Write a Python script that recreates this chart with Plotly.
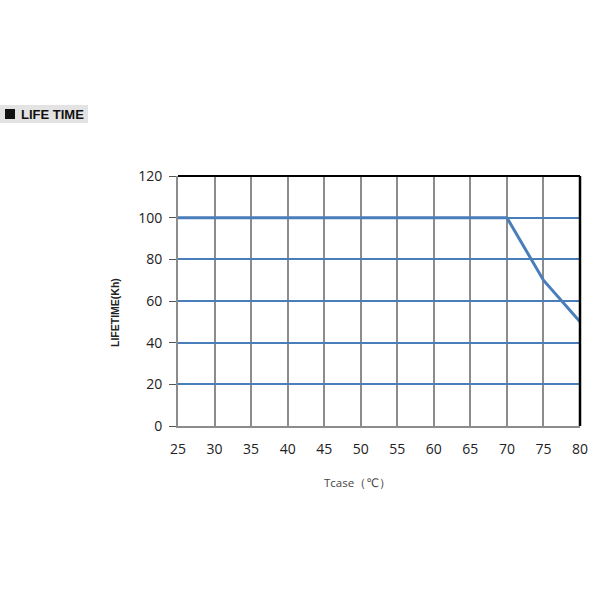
import plotly.graph_objects as go

tcase = [25, 30, 35, 40, 45, 50, 55, 60, 65, 70, 75, 80]
lifetime = [100, 100, 100, 100, 100, 100, 100, 100, 100, 100, 70, 50]
x_ticks = [25, 30, 35, 40, 45, 50, 55, 60, 65, 70, 75, 80]
y_ticks = [0, 20, 40, 60, 80, 100, 120]

W, H = 600, 600
L, T, PW, PH = 178, 176, 402, 250

def px(x):
    return (x - L) / PW

def py(y):
    return (T + PH - y) / PH

fig = go.Figure()
fig.add_trace(go.Scatter(x=tcase, y=lifetime, mode="lines",
                         line=dict(color="#4A7EBB", width=3), showlegend=False))

fig.update_layout(
    width=W, height=H,
    margin=dict(l=L, r=W - L - PW, t=T, b=H - T - PH),
    paper_bgcolor="white", plot_bgcolor="white",
    font=dict(family="Open Sans, DejaVu Sans, sans-serif", color="#222"),
    xaxis=dict(range=[25, 80], tickvals=x_ticks, showgrid=True, gridcolor="#8c8c8c",
               gridwidth=1.5, zeroline=False, showline=True, linecolor="#8c8c8c", linewidth=2,
               ticks="", tickfont=dict(size=14, color="#222"), ticklabelstandoff=9),
    yaxis=dict(range=[0, 120], tickvals=y_ticks, showgrid=True, gridcolor="#4A7EBB",
               gridwidth=1.5, zeroline=False, showline=True, linecolor="#8c8c8c", linewidth=2,
               ticks="outside", ticklen=7, tickcolor="#555", tickfont=dict(size=14, color="#222"),
               ticklabelstandoff=4),
    shapes=[
        dict(type="line", xref="paper", yref="paper", x0=0, x1=1, y0=1, y1=1,
             line=dict(color="black", width=2)),
        dict(type="line", xref="paper", yref="paper", x0=1, x1=1, y0=0, y1=1,
             line=dict(color="black", width=2.5)),
        dict(type="rect", xref="paper", yref="paper", x0=px(0), x1=px(88),
             y0=py(123), y1=py(105),
             fillcolor="#e3e3e3", line=dict(width=0), layer="below"),
        dict(type="rect", xref="paper", yref="paper", x0=px(5), x1=px(15),
             y0=py(119), y1=py(109),
             fillcolor="#111", line=dict(width=0), layer="above"),
    ],
    annotations=[
        dict(text="<b>LIFE TIME</b>", xref="paper", yref="paper",
             x=px(19), y=py(114.5), xanchor="left", yanchor="middle",
             showarrow=False, font=dict(size=13, color="#111", family="Liberation Sans, Arial, sans-serif")),
        dict(text="<b>LIFETIME(Kh)</b>", xref="paper", yref="paper",
             x=px(115), y=py(313), xanchor="center", yanchor="middle", textangle=-90,
             showarrow=False, font=dict(size=10.5, color="#222", family="Liberation Sans, Arial, sans-serif")),
        dict(text="Tcase（℃）", xref="paper", yref="paper",
             x=px(357), y=py(482), xanchor="center", yanchor="middle",
             showarrow=False, font=dict(size=11.5, color="#444")),
    ],
)

fig.write_html("out.html", config={"displayModeBar": False},
               post_script="document.body.style.margin='0';")
